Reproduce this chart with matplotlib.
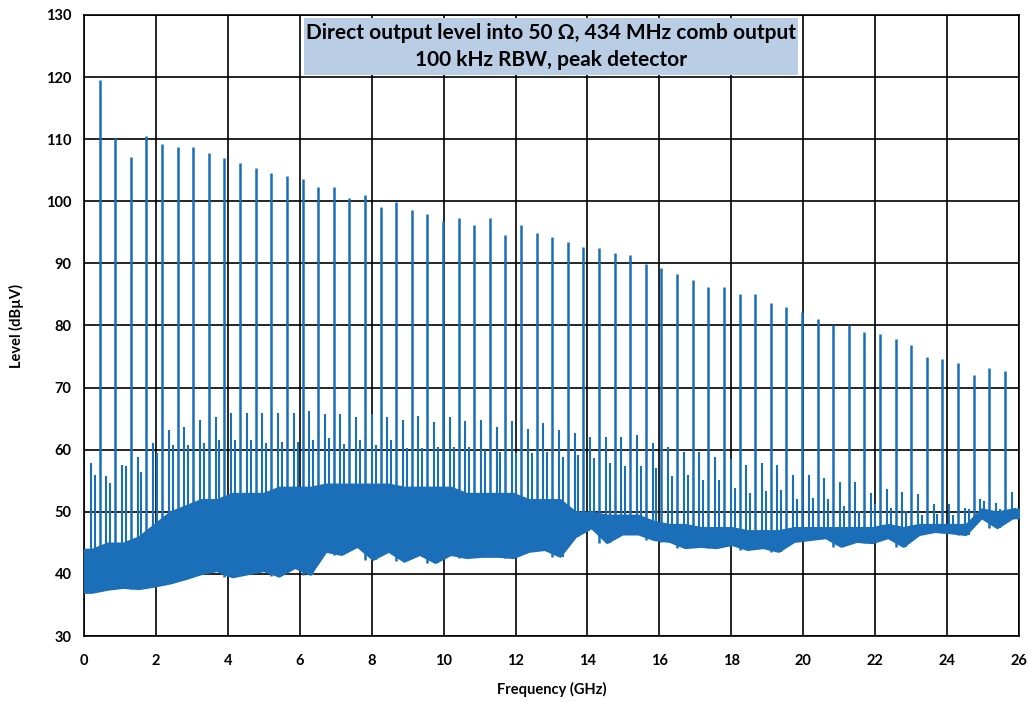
import matplotlib.pyplot as plt
from matplotlib.patches import Rectangle
import numpy as np

# comb spacing (GHz) and the level of each comb line n = 1..59 (dBuV)
comb_step = 0.434
comb_peak = [119.5, 110.2, 107.2, 110.5, 109.3, 108.8, 108.8, 107.8, 107.0, 106.2,
             105.3, 104.5, 104.1, 103.6, 102.3, 102.3, 100.6, 101.0, 99.1, 99.9,
             98.6, 98.0, 96.9, 97.3, 96.2, 97.3, 94.5, 96.2, 94.9, 94.2,
             93.4, 92.7, 92.5, 91.6, 91.4, 89.9, 89.2, 88.3, 87.4, 86.2,
             86.2, 85.0, 85.0, 83.7, 83.0, 82.1, 81.1, 80.0, 80.0, 78.9,
             78.7, 77.8, 76.9, 75.0, 74.6, 73.9, 72.0, 73.2, 72.7]

# per interval between comb lines (k = 0..59): two spurs, band top, floor
spur_a = [57.9, 55.8, 57.5, 58.9, 61.1, 63.1, 63.7, 64.8, 65.2, 65.9,
          65.9, 65.9, 65.9, 65.9, 66.3, 65.7, 65.7, 65.2, 65.7, 65.2,
          64.8, 65.5, 64.4, 65.3, 64.7, 64.8, 63.7, 64.7, 63.4, 64.3,
          63.2, 62.7, 62.0, 62.0, 62.1, 62.4, 61.1, 60.4, 59.7, 59.6,
          58.8, 58.5, 57.6, 57.8, 57.5, 55.9, 56.0, 55.4, 54.8, 54.8,
          53.0, 53.7, 53.2, 52.8, 51.3, 51.2, 50.6, 52.0, 51.4, 53.2]
spur_b = [56.0, 54.6, 57.4, 56.4, 59.5, 60.8, 60.8, 61.1, 61.6, 61.6,
          61.6, 61.0, 61.3, 61.3, 61.6, 61.9, 60.9, 61.6, 60.8, 61.6,
          60.3, 60.3, 60.5, 60.5, 60.5, 60.0, 59.7, 59.5, 59.5, 59.7,
          58.9, 59.2, 58.7, 57.9, 57.3, 57.3, 57.0, 55.7, 56.0, 55.2,
          55.2, 53.8, 53.0, 53.3, 53.5, 52.0, 52.2, 52.0, 51.0, 50.1,
          51.2, 50.6, 50.1, 49.5, 49.6, 49.5, 50.4, 51.7, 50.5, 50.6]
band_top = [44.0, 45.0, 45.0, 46.0, 48.0, 50.0, 51.0, 52.0, 52.0, 53.0,
            53.0, 53.0, 54.0, 54.0, 54.0, 54.5, 54.5, 54.5, 54.5, 54.5,
            54.0, 54.0, 54.0, 54.0, 53.0, 53.0, 53.0, 53.0, 52.0, 52.0,
            52.0, 50.0, 50.0, 49.5, 49.5, 49.5, 48.5, 48.0, 48.0, 47.5,
            47.5, 47.5, 47.0, 47.0, 47.0, 47.5, 47.5, 47.5, 47.5, 47.5,
            47.5, 48.0, 47.5, 48.0, 48.0, 48.0, 48.0, 50.5, 50.0, 50.5]
floor = [37.0, 37.5, 37.8, 37.6, 38.0, 38.5, 39.2, 40.0, 40.5, 39.5,
         40.0, 40.5, 39.6, 41.0, 39.9, 43.6, 43.1, 44.4, 42.3, 43.6,
         42.0, 43.1, 41.8, 43.1, 42.6, 42.8, 42.8, 42.6, 43.6, 43.9,
         42.8, 46.0, 47.4, 45.0, 46.4, 46.4, 45.5, 45.2, 44.2, 44.4,
         44.2, 44.7, 43.9, 44.2, 43.6, 45.2, 45.5, 45.8, 44.4, 45.2,
         45.0, 45.8, 44.4, 46.3, 46.8, 46.6, 46.3, 49.0, 47.4, 49.0]

xticks = list(range(0, 27, 2))
yticks = list(range(30, 131, 10))

blue = '#1a6fb8'
plt.rcParams['font.family'] = ['Lato', 'DejaVu Sans']
plt.rcParams['font.weight'] = 'bold'

fig = plt.figure(figsize=(10.29, 7.02), dpi=100)
ax = fig.add_axes([84/1029, 1-636/702, 935/1029, 621/702])

n_int = len(floor)
k = np.arange(n_int)
f0 = k * comb_step
mid = np.minimum(f0 + 0.5*comb_step, 26.0)
xb = np.concatenate([[0.0], mid, [26.0]])
fl = [floor[0]] + floor + [floor[-1]]
bt = [band_top[0]] + band_top + [band_top[-1]]
ax.fill_between(xb, fl, bt, color=blue, lw=1.2, edgecolor=blue, zorder=3)

ax.vlines(f0 + 0.43*comb_step, floor, spur_a, color=blue, lw=1.5, zorder=3)
ax.vlines(f0 + 0.68*comb_step, floor, spur_b, color=blue, lw=1.5, zorder=3)

n = np.arange(1, len(comb_peak) + 1)
comb_f = n * comb_step
ax.vlines(comb_f, np.array(floor[1:]), comb_peak, color=blue, lw=1.8, zorder=3)

ax.set_xlim(0, 26)
ax.set_ylim(30, 130)
ax.set_xticks(xticks)
ax.set_yticks(yticks)
ax.grid(True, color='black', lw=1.2, zorder=1)
ax.set_axisbelow(True)
ax.tick_params(axis='x', length=0, labelsize=10.5, pad=13)
ax.tick_params(axis='y', length=0, labelsize=10.5, pad=9)
for s in ax.spines.values():
    s.set_color('black')
    s.set_linewidth(1.2)
ax.set_xlabel('Frequency (GHz)', fontsize=10.5, fontweight='bold', labelpad=10)
ax.set_ylabel('Level (dBµV)', fontsize=10.5, fontweight='bold', labelpad=16)

fig.patches.append(Rectangle((304/1029, 1-75/702), 494/1029, 57/702,
                             transform=fig.transFigure, facecolor='#b9cde5',
                             edgecolor='none', zorder=5))
fig.text(551/1029, 1-33/702, 'Direct output level into 50 Ω, 434 MHz comb output',
         ha='center', va='center', fontsize=15, fontweight='bold', zorder=6)
fig.text(551/1029, 1-60/702, '100 kHz RBW, peak detector',
         ha='center', va='center', fontsize=15, fontweight='bold', zorder=6)

fig.savefig('out.png', dpi=100)
